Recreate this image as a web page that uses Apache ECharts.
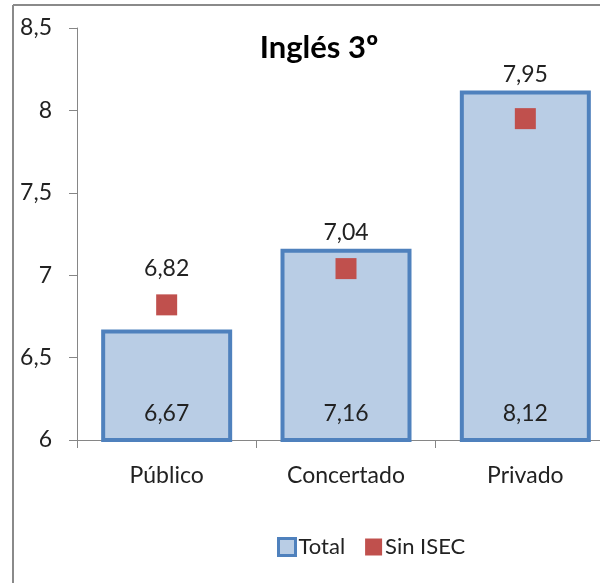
<!DOCTYPE html>
<html>
<head>
<meta charset="utf-8">
<script src="https://cdn.jsdelivr.net/npm/echarts@6/dist/echarts.min.js"></script>
<style>
html,body{margin:0;padding:0;background:#fff;}
#chart{width:600px;height:583px;}
</style>
</head>
<body>
<div id="chart"></div>
<script>
const categories = ['Público', 'Concertado', 'Privado'];
const totalValues = [6.67, 7.16, 8.12];
const sinIsecValues = [6.82, 7.04, 7.95];
const yTicks = [6, 6.5, 7, 7.5, 8, 8.5];

const FONT = 'Lato';
const fmt = v => String(v).replace('.', ',');
const scatterLabelDist = [14, 14, 22];

const chart = echarts.init(document.getElementById('chart'));
chart.setOption({
  animation: false,
  textStyle: { fontFamily: FONT },
  title: {
    text: 'Inglés 3º',
    left: 314, top: 27, textAlign: 'center',
    textStyle: { fontFamily: FONT, fontWeight: 'bold', fontSize: 31, color: '#000' }
  },
  legend: {
    top: 531, left: 272,
    itemWidth: 17, itemHeight: 17, itemGap: 20,
    textStyle: { fontFamily: FONT, fontSize: 22, color: '#222', padding: [0, 0, 0, -2] },
    data: [
      { name: 'Total', icon: 'rect', itemStyle: { color: '#B9CDE5', borderColor: '#4F81BD', borderWidth: 3 } },
      { name: 'Sin ISEC', icon: 'rect', itemStyle: { color: '#C0504D', opacity: 1 } }
    ]
  },
  graphic: [
    { type: 'line', shape: { x1: 13, y1: 5, x2: 13, y2: 583 }, style: { stroke: '#8a8a8a', lineWidth: 2 } },
    { type: 'line', shape: { x1: 13, y1: 5, x2: 600, y2: 5 }, style: { stroke: '#8a8a8a', lineWidth: 2 } }
  ],
  grid: { left: 77, top: 28, right: -15, height: 412, containLabel: false, outerBoundsMode: 'none' },
  xAxis: {
    type: 'category',
    data: categories,
    axisLine: { lineStyle: { color: '#868686', width: 1 } },
    axisTick: { show: true, alignWithLabel: false, length: 8, lineStyle: { color: '#868686' } },
    axisLabel: { fontFamily: FONT, fontSize: 23, color: '#222', margin: 24 }
  },
  yAxis: {
    type: 'value',
    min: 6, max: 8.5, interval: 0.5,
    splitLine: { show: false },
    axisLine: { show: true, lineStyle: { color: '#868686', width: 1 } },
    axisTick: { show: true, length: 8, lineStyle: { color: '#868686' } },
    axisLabel: {
      fontFamily: FONT, fontSize: 23, color: '#222', margin: 25,
      formatter: v => yTicks.includes(v) ? fmt(v) : ''
    }
  },
  series: [
    {
      name: 'Total',
      type: 'bar',
      data: totalValues,
      barWidth: 131,
      itemStyle: { color: '#B9CDE5', borderColor: '#4F81BD', borderWidth: 4 },
      label: {
        show: true, position: 'insideBottom', distance: 17,
        fontFamily: FONT, fontSize: 23, color: '#222',
        formatter: p => fmt(p.value)
      },
      z: 2
    },
    {
      name: 'Sin ISEC',
      type: 'scatter',
      data: sinIsecValues.map((v, i) => ({
        value: v,
        label: { distance: scatterLabelDist[i] }
      })),
      symbol: 'rect',
      symbolSize: 21,
      itemStyle: { color: '#C0504D', opacity: 1 },
      label: {
        show: true, position: 'top',
        fontFamily: FONT, fontSize: 23, color: '#222', opacity: 1,
        formatter: p => fmt(p.value)
      },
      z: 3
    }
  ]
});
</script>
</body>
</html>
